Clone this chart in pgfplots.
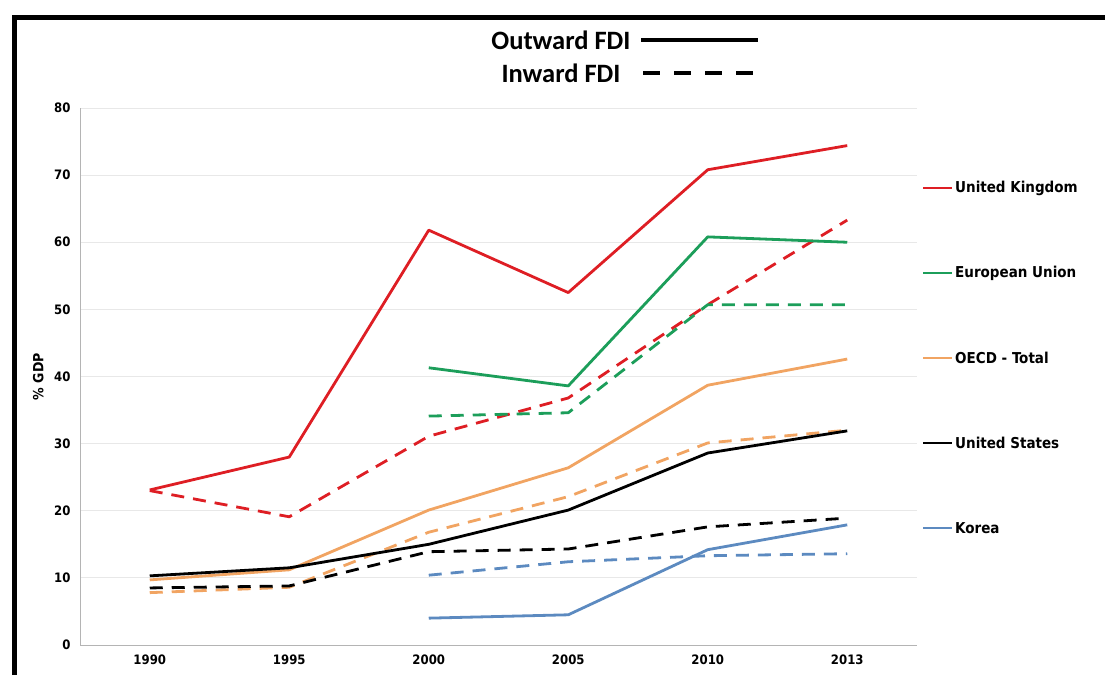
\documentclass[border=0pt]{standalone}
\usepackage{pgfplots}
\pgfplotsset{compat=1.18}
\usepackage{fontspec}
\setmainfont{DejaVu Sans Condensed}
\newfontfamily\titlefont{Carlito}

\definecolor{ukred}{RGB}{222,30,36}
\definecolor{eugreen}{RGB}{28,158,90}
\definecolor{oecdorange}{RGB}{241,164,98}
\definecolor{korblue}{RGB}{92,138,192}
\definecolor{gridgray}{RGB}{232,232,232}
\definecolor{axisgray}{RGB}{180,180,180}

\begin{document}
\begin{tikzpicture}[x=1pt,y=1pt]
\useasboundingbox (0,0) rectangle (1105,675);
% outer frame
\draw[line width=5pt] (14.5,0) -- (14.5,657.5) -- (1105,657.5);

\begin{axis}[
    at={(80pt,30pt)}, anchor=south west,
    scale only axis, width=837pt, height=537pt,
    xmin=-0.5, xmax=5.5, ymin=0, ymax=80,
    xtick={0,1,2,3,4,5},
    xticklabels={1990,1995,2000,2005,2010,2013},
    ytick={0,10,20,30,40,50,60,70,80},
    ymajorgrids, grid style={gridgray, line width=0.8pt},
    axis x line*=bottom, axis y line*=left,
    axis line style={axisgray, line width=0.8pt},
    major tick length=0pt,
    tick label style={font=\fontsize{13}{13}\selectfont\bfseries},
    /pgf/number format/assume math mode=true,
    xticklabel style={yshift=-6pt},
    yticklabel style={xshift=-6pt},
    ylabel={\% GDP},
    ylabel style={font=\fontsize{14}{14}\selectfont\bfseries, at={(rel axis cs:0,0.5)}, anchor=south, yshift=33pt},
    every axis plot/.append style={line width=2.8pt, line join=round},
    indim/.style={dash pattern=on 13pt off 9pt},
]
% United Kingdom
\addplot[ukred] coordinates {(0,23.1)(1,28.0)(2,61.8)(3,52.5)(4,70.8)(5,74.4)};
\addplot[ukred, indim] coordinates {(0,23.0)(1,19.1)(2,31.1)(3,36.8)(4,50.7)(5,63.3)};
% European Union
\addplot[eugreen] coordinates {(2,41.3)(3,38.6)(4,60.8)(5,60.0)};
\addplot[eugreen, indim] coordinates {(2,34.1)(3,34.6)(4,50.7)(5,50.7)};
% OECD - Total
\addplot[oecdorange] coordinates {(0,9.7)(1,11.2)(2,20.1)(3,26.4)(4,38.7)(5,42.6)};
\addplot[oecdorange, indim] coordinates {(0,7.8)(1,8.6)(2,16.8)(3,22.1)(4,30.1)(5,32.0)};
% United States
\addplot[black] coordinates {(0,10.3)(1,11.5)(2,15.0)(3,20.1)(4,28.6)(5,31.9)};
\addplot[black, indim] coordinates {(0,8.5)(1,8.8)(2,13.9)(3,14.3)(4,17.6)(5,18.9)};
% Korea
\addplot[korblue] coordinates {(2,4.0)(3,4.5)(4,14.2)(5,17.9)};
\addplot[korblue, indim] coordinates {(2,10.4)(3,12.4)(4,13.3)(5,13.6)};
\end{axis}

% top legend (line styles)
\node[anchor=east, font=\titlefont\fontsize{26.5}{26.5}\selectfont\bfseries] at (634,635) {Outward FDI};
\draw[line width=4pt] (641,635) -- (758,635);
\node[anchor=east, font=\titlefont\fontsize{26.5}{26.5}\selectfont\bfseries] at (624,602) {Inward FDI};
\draw[line width=4pt, dash pattern=on 17pt off 14pt] (643,602) -- (755,602);

% right legend (colours)
\foreach \y/\c/\t in {487/ukred/United Kingdom, 402/eugreen/European Union,
                      317/oecdorange/OECD - Total, 232/black/United States, 147/korblue/Korea}{
  \draw[\c, line width=2.8pt] (923,\y) -- (952,\y);
  \node[anchor=west, inner sep=0pt, font=\fontsize{15}{15}\selectfont\bfseries] at (955,\y) {\t};
}
\end{tikzpicture}
\end{document}
